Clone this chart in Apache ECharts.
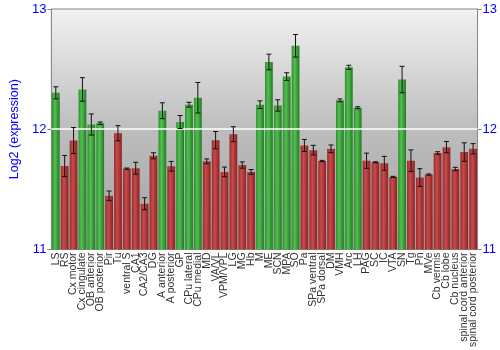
<!DOCTYPE html>
<html>
<head>
<meta charset="utf-8">
<script src="https://cdn.jsdelivr.net/npm/echarts@6/dist/echarts.min.js"></script>
<style>html,body{margin:0;padding:0;background:#fff}#c{width:500px;height:350px}</style>
</head>
<body>
<div id="c"></div>
<script>
var categories = ["LS","RS","Cx motor","Cx cingulate","OB anterior","OB posterior","Pir","Tu","ventral S","CA1","CA2/CA3","DG","A anterior","A posterior","GP","CPu lateral","CPu medial","MD","VA/VL","VPM/VPL","LG","MG","Hb","M","ME","SCN","MPA","SO","Pa","SPa ventral","SPa dorsal","DM","VMH","Arc","LH","PAG","SC","IC","VTA","SN","Tg","Pn","MVe","Cb vermis","Cb lobe","Cb nucleus","spinal cord anterior","spinal cord posterior"];
var values = [12.303,11.694,11.906,12.331,12.039,12.05,11.446,11.967,11.672,11.675,11.380,11.779,12.154,11.692,12.06,12.204,12.262,11.733,11.909,11.645,11.959,11.702,11.645,12.204,12.559,12.198,12.438,12.694,11.865,11.826,11.736,11.837,12.240,12.515,12.179,11.738,11.725,11.716,11.603,12.413,11.738,11.598,11.623,11.802,11.851,11.669,11.810,11.837];
var errors = [0.05,0.088,0.108,0.098,0.088,0.01,0.04,0.063,0.005,0.05,0.05,0.025,0.066,0.04,0.054,0.02,0.127,0.02,0.072,0.04,0.062,0.026,0.02,0.032,0.065,0.047,0.032,0.094,0.05,0.04,0.005,0.032,0.012,0.017,0.008,0.063,0.004,0.058,0.005,0.11,0.09,0.074,0.005,0.011,0.047,0.014,0.077,0.043];
var yTicks = [11, 12, 13];
var threshold = 12;

function grad(c1, c2, c3) {
  return new echarts.graphic.LinearGradient(0, 0, 1, 0, [
    {offset: 0, color: c1}, {offset: 0.4, color: c2}, {offset: 1, color: c3}
  ]);
}
var greenFill = grad('#2f8f2f', '#52c052', '#217a21');
var redFill = grad('#9a2a2a', '#c64c4c', '#8a2222');

var barData = values.map(function (v) {
  return {value: v, itemStyle: {color: v > threshold ? greenFill : redFill}};
});
var errData = values.map(function (v, i) { return [i, v - errors[i], v + errors[i]]; });

var chart = echarts.init(document.getElementById('c'), null, {renderer: 'canvas'});
var yAxisBase = {
  type: 'value', min: yTicks[0], max: yTicks[yTicks.length - 1], interval: 1,
  splitLine: {show: false},
  axisLine: {show: true, lineStyle: {color: '#888', width: 1}},
  axisTick: {show: true, length: 4, lineStyle: {color: '#888'}},
  axisLabel: {color: '#0000ff', fontSize: 13, fontFamily: 'Liberation Sans', margin: 5}
};
chart.setOption({
  animation: false,
  grid: {left: 34, right: 21, top: 9, bottom: 99, show: true, borderColor: '#888', borderWidth: 1,
    backgroundColor: new echarts.graphic.LinearGradient(0, 0, 0, 1, [
      {offset: 0, color: '#f2f2f2'}, {offset: 0.5, color: '#bdbdbd'}, {offset: 1, color: '#a2a2a2'}
    ])},
  xAxis: {
    type: 'category', data: categories,
    axisLine: {show: false}, axisTick: {show: false},
    axisLabel: {rotate: 90, interval: 0, fontSize: 10.5, fontFamily: 'Liberation Sans', color: '#333', margin: 3}
  },
  yAxis: [
    Object.assign({}, yAxisBase, {position: 'left', name: 'Log2 (expression)', nameLocation: 'middle', nameGap: 21,
      nameTextStyle: {color: '#0000ff', fontSize: 12.5, fontFamily: 'Liberation Sans'}}),
    Object.assign({}, yAxisBase, {position: 'right'})
  ],
  series: [
    {type: 'bar', data: barData, barCategoryGap: '12%', clip: true,
      markLine: {silent: true, symbol: 'none', label: {show: false},
        lineStyle: {color: '#ffffff', width: 1.5, type: 'solid'}, data: [{yAxis: threshold}]},
      z: 2},
    {type: 'custom', data: errData, z: 5,
      renderItem: function (params, api) {
        var x = api.value(0);
        var lo = api.coord([x, api.value(1)]);
        var hi = api.coord([x, api.value(2)]);
        var w = 2.5;
        var st = {stroke: '#111', lineWidth: 1};
        return {type: 'group', children: [
          {type: 'line', shape: {x1: lo[0], y1: lo[1], x2: hi[0], y2: hi[1]}, style: st},
          {type: 'line', shape: {x1: lo[0] - w, y1: lo[1], x2: lo[0] + w, y2: lo[1]}, style: st},
          {type: 'line', shape: {x1: hi[0] - w, y1: hi[1], x2: hi[0] + w, y2: hi[1]}, style: st}
        ]};
      }}
  ]
});
</script>
</body>
</html>
